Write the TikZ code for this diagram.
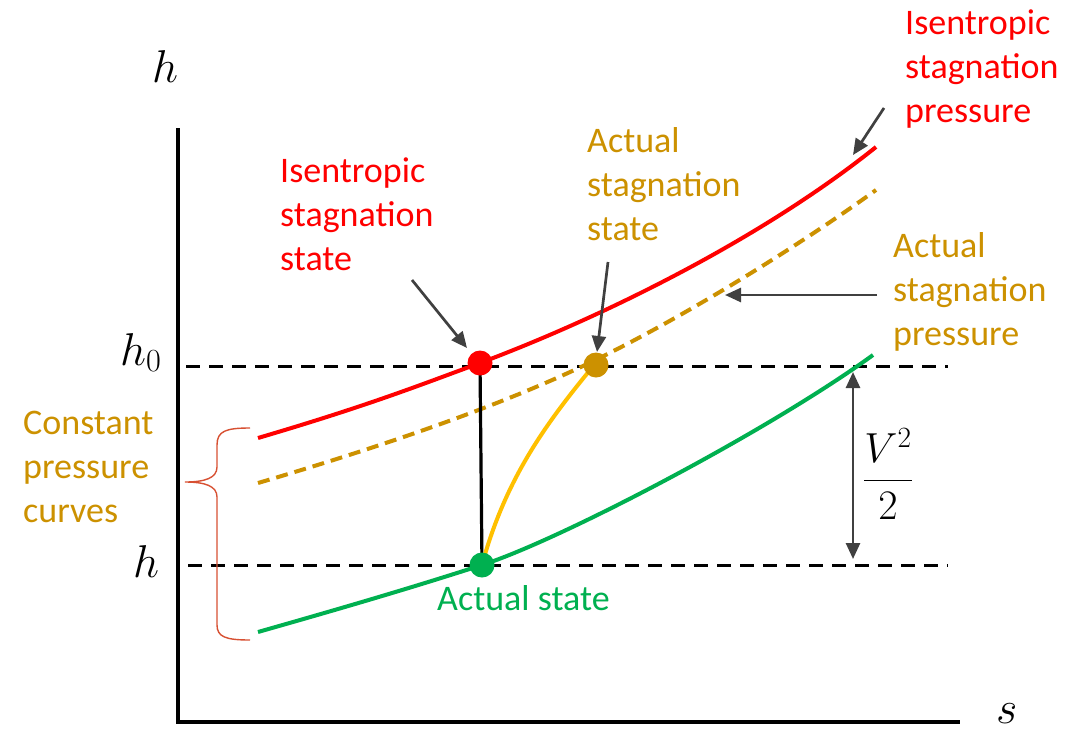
\RequirePackage{fix-cm}
\documentclass[tikz,border=0pt]{standalone}
\usepackage{amsmath}
\usepackage{fontspec}
\setmainfont{Carlito}
\usetikzlibrary{arrows.meta}
\definecolor{myred}{RGB}{255,0,0}
\definecolor{mygold}{RGB}{204,145,0}
\definecolor{myyellow}{RGB}{255,192,0}
\definecolor{mygreen}{RGB}{0,176,80}
\definecolor{mygray}{RGB}{64,64,64}
\definecolor{mybrace}{RGB}{215,80,50}
\begin{document}
\begin{tikzpicture}[x=1pt,y=-1pt,
  lbl/.style={font=\fontsize{36}{44}\selectfont, align=left, anchor=base west, inner sep=0pt},
  mth/.style={font=\fontsize{46}{52}\selectfont, inner sep=0pt, anchor=base west},
  dot/.style={circle, inner sep=0pt, minimum size=25pt},
  ptr/.style={draw=mygray, line width=2.7pt, -{Triangle[length=16pt,width=14pt]}},
  dblptr/.style={draw=mygray, line width=2.7pt, {Triangle[length=16pt,width=14pt]}-{Triangle[length=16pt,width=14pt]}},
  axisline/.style={draw=black, line width=3.2pt},
  levelline/.style={draw=black, line width=3pt, dash pattern=on 14pt off 9pt},
  curvesolid/.style={line width=4pt},
  curvedash/.style={line width=4pt, dash pattern=on 12pt off 7pt},
  bracestyle/.style={draw=mybrace, line width=1.4pt}]
\useasboundingbox (0,0) rectangle (1086,731);

% axes
\coordinate (ytop) at (178,128);
\coordinate (orig) at (178,722);
\coordinate (xend) at (960,722);
\draw[axisline] (ytop) -- (orig) -- (xend);

% axis labels
\node[mth] (hax) at (152,82) {$h$};
\node[mth] (sax) at (996,723) {$s$};
\node[mth] (hzero) at (120,365) {$h_0$};
\node[mth] (hlow) at (133,577) {$h$};

% level lines
\coordinate (l0a) at (186,366);
\coordinate (l0b) at (948,366);
\coordinate (l1a) at (188,565);
\coordinate (l1b) at (948,565);
\draw[levelline] (l0a) -- (l0b);
\draw[levelline] (l1a) -- (l1b);

% point positions
\coordinate (pis) at (480,363);
\coordinate (pas) at (596,365);
\coordinate (pac) at (482,565);

% curves
\draw[curvesolid, myred] (258,438) .. controls (370,405) and (420,385) .. (pis)
  .. controls (600,318) and (760,240) .. (876,147);
\draw[curvedash, mygold] (258,483) .. controls (370,450) and (490,410) .. (583,366)
  .. controls (680,320) and (800,245) .. (876,190);
\draw[curvesolid, mygreen] (258,632) .. controls (360,603) and (420,585) .. (pac)
  .. controls (560,540) and (770,430) .. (873,355);

% process lines
\draw[line width=3.2pt, black] (pis) -- (pac);
\draw[curvesolid, myyellow] (pac) .. controls (505,480) and (545,425) .. (590,370);

% dots
\node[dot, fill=myred] (isd) at (pis) {};
\node[dot, fill=mygold] (asd) at (pas) {};
\node[dot, fill=mygreen] (acd) at (pac) {};

% labels (anchored at the baseline of the last line)
\node[lbl, text=myred] (isslab) at (280,270) {Isentropic\\stagnation\\state};
\node[lbl, text=mygold] (asslab) at (587,240) {Actual\\stagnation\\state};
\node[lbl, text=myred] (isplab) at (905,122) {Isentropic\\stagnation\\pressure};
\node[lbl, text=mygold] (asplab) at (893,345) {Actual\\stagnation\\pressure};
\node[lbl, text=mygold] (cpclab) at (23,522) {Constant\\pressure\\curves};
\node[lbl, text=mygreen] (aslab) at (437,610) {Actual state};

% pointer arrows
\coordinate (a1s) at (412,280);
\coordinate (a1e) at (467,348);
\draw[ptr] (a1s) -- (a1e);
\coordinate (a2s) at (608,262);
\coordinate (a2e) at (597,352);
\draw[ptr] (a2s) -- (a2e);
\coordinate (a3s) at (877,295);
\coordinate (a3e) at (725,295);
\draw[ptr] (a3s) -- (a3e);
\coordinate (a4s) at (884,108);
\coordinate (a4e) at (853,155);
\draw[ptr] (a4s) -- (a4e);

% velocity head
\coordinate (vtop) at (853,372);
\coordinate (vbot) at (853,559);
\draw[dblptr] (vtop) -- (vbot);
\node[font=\fontsize{42}{48}\selectfont, inner sep=0pt] (vlab) at (888,474) {$\dfrac{V^2}{2}$};

% brace
\draw[bracestyle] (250,428) .. controls (226,428) and (217,431) .. (217,445) -- (217,467)
  .. controls (217,478) and (205,482) .. (185,482)
  .. controls (205,482) and (217,486) .. (217,497) -- (217,625)
  .. controls (217,637) and (226,640) .. (250,640);
\end{tikzpicture}
\end{document}
